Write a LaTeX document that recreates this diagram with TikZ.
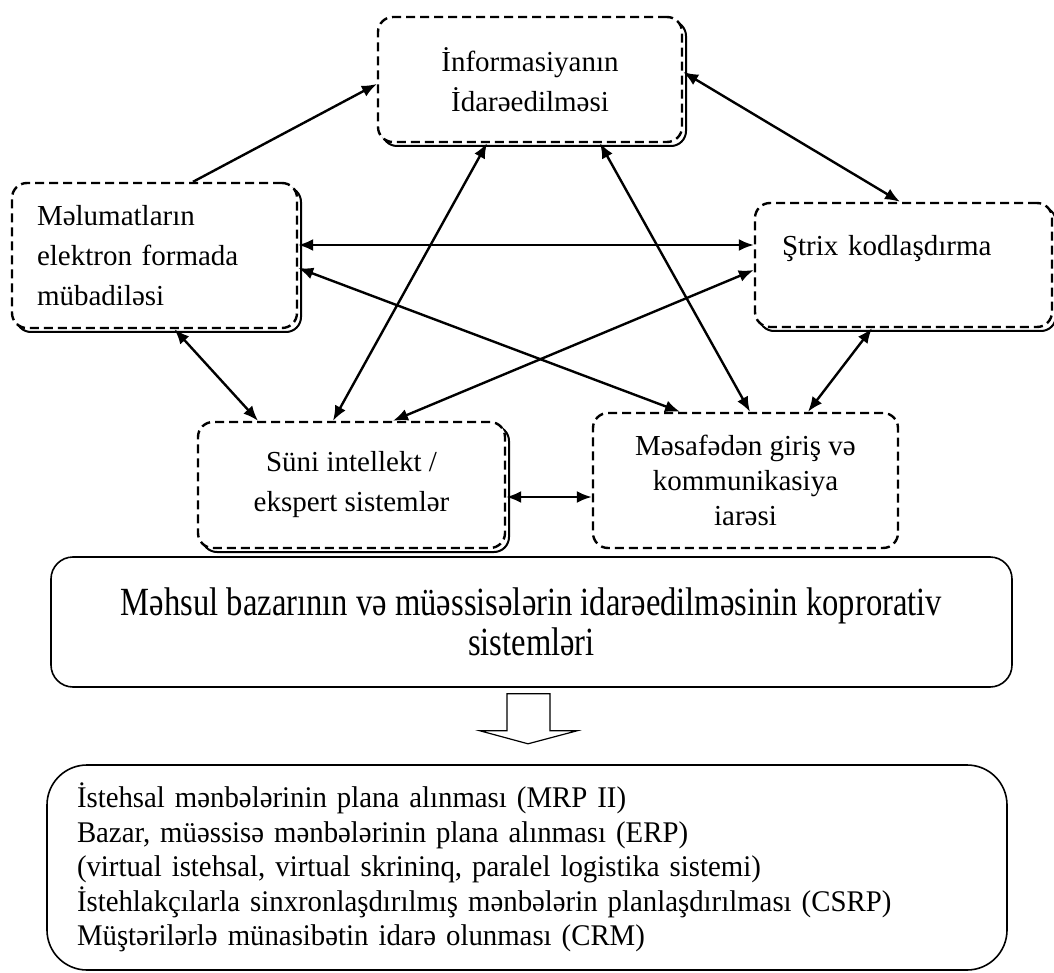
\documentclass[tikz,border=0pt]{standalone}
\usepackage{fontspec}
\setmainfont{Liberation Serif}
\newfontfamily\tallserif[FakeStretch=0.815]{Liberation Serif}
\newfontfamily\listserif[FakeStretch=0.96]{Liberation Serif}
\usepackage{tikz}
\usetikzlibrary{arrows.meta}
\usetikzlibrary{calc}

\begin{document}
\begin{tikzpicture}[x=1pt, y=-1pt, >={Latex[length=15pt,width=12pt]}, line width=2.4pt,
	sysbox/.style={rectangle, rounded corners=15pt, draw, dash pattern=on 9pt off 5pt, fill=white, font=\fontsize{29}{40}\selectfont, align=center, inner sep=0pt},
	shadowed/.style={preaction={draw, solid, line width=2pt, transform canvas={xshift=4pt, yshift=-4pt}}},
	bigbox/.style={rectangle, draw, line width=1.6pt, inner sep=0pt},
]
\useasboundingbox (0,0) rectangle (1054,973);
\node [sysbox, shadowed, minimum width=304pt, minimum height=125pt] (info) at (530,79.5) {İnformasiyanın\\İdarəedilməsi};
\node [sysbox, shadowed, minimum width=285pt, minimum height=145pt, text width=235pt, align=left] (data) at (154.5,255.5) {Məlumatların\\elektron formada\\mübadiləsi};
\node [sysbox, shadowed, minimum width=297pt, minimum height=124pt, text width=243pt, align=left] (barcode) at (903.5,265) {Ştrix kodlaşdırma\\~};
\node [sysbox, shadowed, minimum width=307pt, minimum height=126pt] (ai) at (351.5,485) {Süni intellekt /\\ekspert sistemlər};
\node [sysbox, minimum width=305pt, minimum height=135pt, font=\fontsize{29}{35}\selectfont] (remote) at (745.5,480.5) {Məsafədən giriş və\\kommunikasiya\\iarəsi};
%
\node [bigbox, rounded corners=22pt, minimum width=961pt, minimum height=130pt, align=center, font=\tallserif\fontsize{40}{40}\selectfont] (corp) at (531.5,622) {Məhsul bazarının və müəssisələrin idarəedilməsinin koprorativ\\sistemləri};
\node [bigbox, rounded corners=40pt, minimum width=960pt, minimum height=205pt, text width=900pt, align=left, font=\listserif\fontsize{30}{34.5}\selectfont] (list) at (527,867.5) {İstehsal mənbələrinin plana alınması (MRP II)\\Bazar, müəssisə mənbələrinin plana alınması (ERP)\\(virtual istehsal, virtual skrininq, paralel logistika sistemi)\\İstehlakçılarla sinxronlaşdırılmış mənbələrin planlaşdırılması (CSRP)\\Müştərilərlə münasibətin idarə olunması (CRM)};
%
\coordinate (dn) at ($(corp.south)+(-3.5,6)$);
\draw [line width=1.2pt, fill=white] (dn) ++(-21,0) -- ++(43,0) -- ++(0,37) -- ++(27,0) -- ++(-49,13) -- ++(-48,-13) -- ++(27,0) -- cycle;
%
\draw [->] ($(data.north)+(38.5,0)$) -- ($(info.west)+(0,4.5)$);
\draw [<->] ($(info.east)+(0,-7.5)$) -- ($(barcode.north)+(-3.5,0)$);
\draw [<->] ($(data.east)+(0,-10.5)$) -- ($(barcode.west)+(0,-20)$);
\draw [<->] ($(data.east)+(0,12.5)$) -- ($(remote.north)+(-65.5,0)$);
\draw [<->] ($(data.south)+(20,0)$) -- ($(ai.north)+(-93.5,0)$);
\draw [<->] ($(info.south)+(-43,0)$) -- ($(ai.north)+(-18.5,0)$);
\draw [<->] ($(info.south)+(70,0)$) -- ($(remote.north)+(4.5,0)$);
\draw [<->] ($(barcode.west)+(0,5)$) -- ($(ai.north)+(41.5,0)$);
\draw [<->] ($(barcode.south)+(-31.5,0)$) -- ($(remote.north)+(62.5,0)$);
\draw [<->] ($(ai.east)+(0,12)$) -- ($(remote.west)+(0,16.5)$);
\end{tikzpicture}
\end{document}
